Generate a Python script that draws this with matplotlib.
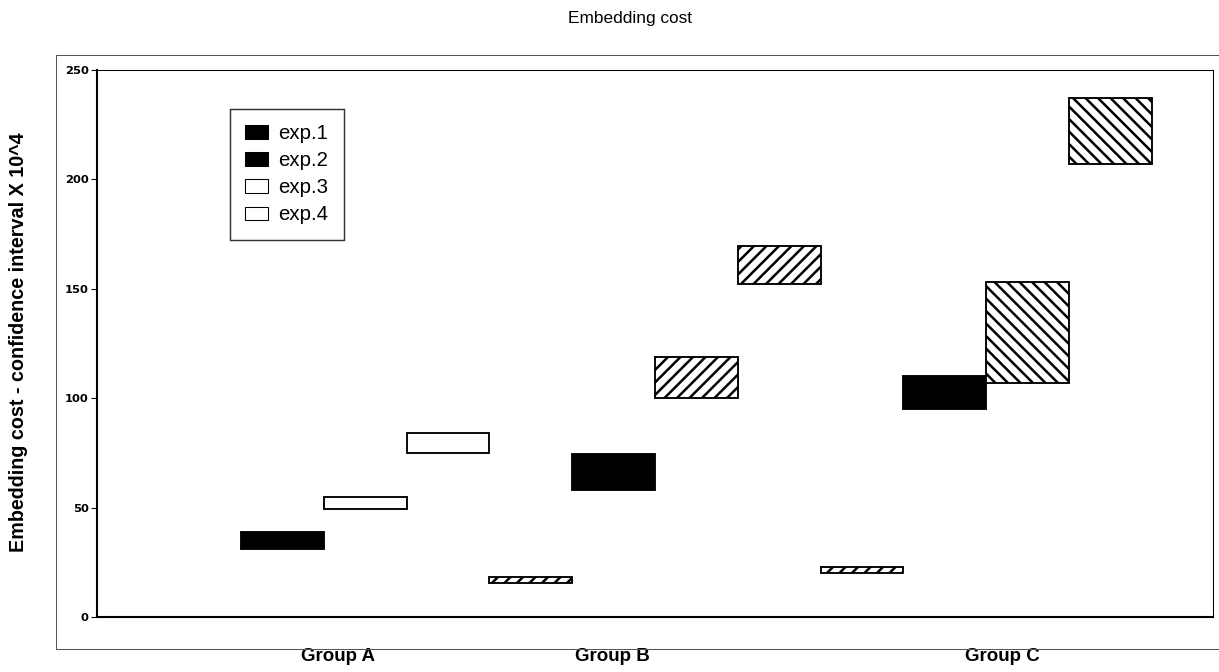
import numpy as np
import matplotlib
matplotlib.use('Agg')  # no display
import matplotlib.pyplot as plt
from matplotlib.patches import Patch, Rectangle

# values (x 10^4)
group_labels = ["Group A", "Group B", "Group C"]
group_pos = [1.17, 4.49, 9.19]
box_low = [31, 49.5, 75, 15.5, 58, 100, 152, 20, 95, 107, 207]
box_high = [39, 55, 84, 18.3, 74.5, 119, 169.5, 22.9, 110, 153, 237]
box_fill = ['black', 'white', 'white', 'white', 'black', 'white', 'white',
            'white', 'black', 'white', 'white']
box_hatch = [None, None, None, '//', None, '//', '//', '//', None, '\\\\', '\\\\']
legend_labels = ["exp.1", "exp.2", "exp.3", "exp.4"]
legend_fill = ['black', 'black', 'white', 'white']
yticks = [0, 50, 100, 150, 200, 250]

plt.rcParams['font.family'] = ['Liberation Sans', 'DejaVu Sans']
plt.rcParams['hatch.linewidth'] = 2.4

DPI = 75  # hatch tile follows dpi
fig = plt.figure(figsize=(1219 / DPI, 672 / DPI), dpi=DPI)
ax = fig.add_axes([97 / 1219, 55 / 672, 1116 / 1219, 547 / 672])

x = np.arange(len(box_low))
low = np.array(box_low)
high = np.array(box_high)
for i in range(len(x)):
    ax.bar(x[i], high[i] - low[i], bottom=low[i], width=1, align='edge',
           color=box_fill[i], edgecolor='black', linewidth=1.8,
           hatch=box_hatch[i], zorder=3)

ax.set_xlim(-1.74, 11.74)
ax.set_ylim(0, 250)
ax.set_yticks(yticks)
ax.set_yticklabels([str(v) for v in yticks], family='DejaVu Sans',
                   fontweight='bold', fontsize=11)
ax.set_xticks(group_pos)
ax.set_xticklabels(group_labels, fontweight='bold', fontsize=18)
ax.tick_params(axis='x', length=0, pad=30)
ax.tick_params(axis='y', length=6, width=1, pad=2)

for s in ['left', 'bottom']:
    ax.spines[s].set_linewidth(2)
for s in ['top', 'right']:
    ax.spines[s].set_linewidth(1)

handles = [Patch(facecolor=c, edgecolor='black', linewidth=1) for c in legend_fill]
leg = ax.legend(handles, legend_labels, loc='upper left',
                bbox_to_anchor=(0.119, 0.929), borderaxespad=0,
                fontsize=19.5, frameon=True, fancybox=False,
                handlelength=1.15, handleheight=0.65, handletextpad=0.5,
                labelspacing=0.4, borderpad=0.75)
leg.get_frame().set_edgecolor('black')
leg.get_frame().set_linewidth(1.4)

# outer frame
fig.patches.append(Rectangle((56 / 1219, 23 / 672), 1.0, 594 / 672,
                             transform=fig.transFigure, fill=False,
                             edgecolor='#555555', linewidth=1))

fig.text(0.517, 1 - 18 / 672, "Embedding cost", ha='center', va='center',
         fontsize=16.5)
fig.text(19 / 1219, 1 - 342 / 672,
         "Embedding cost - confidence interval X 10^4", rotation=90,
         ha='center', va='center', fontweight='bold', fontsize=19)

fig.savefig('out.png', dpi=DPI)
